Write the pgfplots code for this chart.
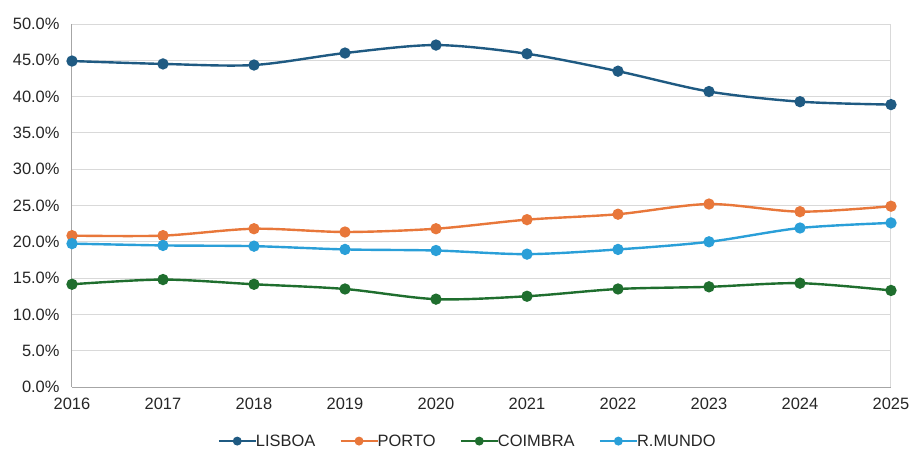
\documentclass[border=0pt]{standalone}
\usepackage{pgfplots}
\pgfplotsset{compat=1.18}
\usepackage{fontspec}
\setmainfont{Liberation Sans}
\definecolor{lisboa}{HTML}{1F5A82}
\definecolor{porto}{HTML}{E8773A}
\definecolor{coimbra}{HTML}{1F6E2E}
\definecolor{mundo}{HTML}{2A9FD8}
\definecolor{gridc}{HTML}{D9D9D9}
\begin{document}
\begin{tikzpicture}[x=1bp,y=1bp]
\useasboundingbox (-72bp,-66bp) rectangle (840bp,387bp);
\begin{axis}[
  scale only axis, width=819bp, height=363bp,
  at={(0,0)}, anchor=south west,
  xmin=2016, xmax=2025, ymin=0, ymax=50,
  xtick={2016,...,2025}, ytick={0,5,...,50},
  /pgf/number format/assume math mode=true,
  xticklabel style={/pgf/number format/1000 sep={}},
  yticklabel={\pgfmathprintnumber[fixed,fixed zerofill,precision=1]{\tick}\%},
  ticklabel style={font=\fontsize{16.5}{18}\selectfont, text=black!85},
  yticklabel style={xshift=-9bp},
  xticklabel style={yshift=-8bp},
  tick style={draw=none},
  ymajorgrids, grid style={gridc, line width=1bp},
  axis line style={gridc, line width=1bp},
  separate axis lines,
  axis x line*=bottom, axis y line*=left,
  every outer x axis line/.append style={gray!70},
  every outer y axis line/.append style={gray!70},
  clip=false,
  legend columns=4,
  legend style={draw=none, at={(0.483,-0.149)}, anchor=center,
    font=\fontsize{16.5}{18}\selectfont, text=black!85,
    /tikz/every even column/.append style={column sep=22bp},
    /tikz/every odd column/.append style={column sep=-3bp}},
  legend image code/.code={
    \draw[#1, line width=2.4bp] (0bp,0bp) -- (37bp,0bp);
    \fill[#1] (18.5bp,0bp) circle (3.2bp);},
  every axis plot/.append style={smooth, tension=0.5, line width=2.4bp, mark=*, mark size=4.4bp},
]
\draw[gridc, line width=1bp] (rel axis cs:1,0) -- (rel axis cs:1,1);
\addplot[color=lisboa, mark options={fill=lisboa}] coordinates {
 (2016,44.9) (2017,44.5) (2018,44.35) (2019,46.0) (2020,47.1)
 (2021,45.9) (2022,43.5) (2023,40.7) (2024,39.3) (2025,38.9)};
\addlegendentry{LISBOA}
\addplot[color=porto, mark options={fill=porto}] coordinates {
 (2016,20.85) (2017,20.85) (2018,21.8) (2019,21.35) (2020,21.8)
 (2021,23.05) (2022,23.8) (2023,25.2) (2024,24.15) (2025,24.9)};
\addlegendentry{PORTO}
\addplot[color=coimbra, mark options={fill=coimbra}] coordinates {
 (2016,14.15) (2017,14.8) (2018,14.15) (2019,13.5) (2020,12.1)
 (2021,12.5) (2022,13.5) (2023,13.8) (2024,14.3) (2025,13.3)};
\addlegendentry{COIMBRA}
\addplot[color=mundo, mark options={fill=mundo}] coordinates {
 (2016,19.75) (2017,19.5) (2018,19.4) (2019,18.95) (2020,18.8)
 (2021,18.3) (2022,18.95) (2023,20.0) (2024,21.9) (2025,22.6)};
\addlegendentry{R.MUNDO}
\end{axis}
\end{tikzpicture}
\end{document}
